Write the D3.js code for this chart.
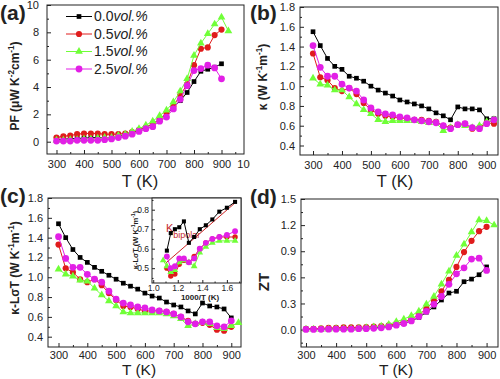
<!DOCTYPE html>
<html><head><meta charset="utf-8">
<script src="https://cdn.jsdelivr.net/npm/d3@7"></script>
<style>
body{margin:0;background:#fff}
svg{display:block}
text{font-family:"Liberation Sans",Arial,sans-serif;fill:#222}
</style>
</head><body>
<svg id="c" width="500" height="379"></svg>
<script>
// ---------------- DATA ----------------
const tempsK = [300,325,350,375,400,425,450,475,500,525,550,575,600,625,650,675,700,725,750,775,800,825,850,875,900,925];
const seriesNames = ['0.0','0.5','1.5','2.5'];
const xTicksA = [300,400,500,600,700,800,900,1000];
const xTicksT = [300,400,500,600,700,800,900];
const yTicksPF = [0,2,4,6,8,10];
const yTicksK = [0.4,0.6,0.8,1.0,1.2,1.4,1.6,1.8];
const yTicksZT = [0,0.3,0.6,0.9,1.2,1.5];
const insetXTicks = [1.0,1.2,1.4,1.6];
const insetYTicks = [0.5,0.6,0.7,0.8];
const bipolarLine = [[1.10,0.525],[1.667,0.835]];

// (a) power factor
const pf00 = [0.15,0.2,0.2,0.25,0.25,0.3,0.3,0.3,0.3,0.4,0.5,0.65,0.85,1.05,1.3,1.6,2.0,2.5,3.0,3.6,4.4,5.15,5.3,5.45,5.7];
const pf05 = [0.3,0.4,0.45,0.55,0.6,0.6,0.6,0.55,0.55,0.55,0.6,0.7,0.85,1.05,1.3,1.65,2.1,2.6,3.4,4.2,5.6,6.8,6.9,7.8,8.2];
const pf15 = [0.1,0.1,0.15,0.15,0.2,0.2,0.25,0.3,0.3,0.45,0.55,0.75,0.95,1.2,1.5,1.9,2.3,2.9,3.7,4.6,6.3,7.2,7.9,8.6,9.1,8.1];
const pf25 = [0.05,0.05,0.05,0.1,0.1,0.1,0.1,0.15,0.2,0.3,0.4,0.55,0.75,0.95,1.1,1.5,1.8,2.4,3.1,4.1,5.2,5.35,5.6,5.4,4.6];
// (b) thermal conductivity
const k00 = [1.55,1.41,1.28,1.20,1.17,1.10,1.08,1.05,1.00,0.96,0.93,0.90,0.86,0.84,0.82,0.80,0.77,0.73,0.70,0.66,0.79,0.77,0.77,0.76,0.67,0.67];
const k05 = [1.33,1.09,1.06,0.98,0.95,0.98,0.92,0.83,0.76,0.72,0.70,0.69,0.68,0.67,0.66,0.66,0.65,0.64,0.60,0.58,0.61,0.62,0.57,0.58,0.63,0.62];
const k15 = [1.08,1.02,1.01,0.96,0.96,0.89,0.82,0.76,0.72,0.66,0.64,0.65,0.65,0.65,0.65,0.64,0.63,0.63,0.55,0.58,0.61,0.60,0.58,0.60,0.64,0.66];
const k25 = [1.41,1.19,1.10,1.10,1.02,0.98,0.95,0.86,0.78,0.74,0.72,0.71,0.69,0.68,0.66,0.65,0.64,0.63,0.60,0.57,0.61,0.62,0.58,0.57,0.62,0.66];
// (c) kappa - L sigma T
const c00 = [1.54,1.40,1.28,1.20,1.15,1.10,1.06,1.02,0.98,0.94,0.91,0.88,0.84,0.81,0.79,0.75,0.72,0.70,0.66,0.63,0.74,0.71,0.70,0.68,0.59];
const c05 = [1.33,1.09,1.05,0.98,0.95,0.98,0.92,0.84,0.77,0.71,0.70,0.68,0.66,0.66,0.66,0.65,0.63,0.60,0.56,0.53,0.54,0.52,0.47,0.46,0.50];
const c15 = [1.08,1.03,1.01,0.97,0.96,0.89,0.82,0.76,0.71,0.65,0.64,0.64,0.64,0.64,0.64,0.63,0.61,0.58,0.51,0.53,0.54,0.53,0.49,0.48,0.51,0.54];
const c25 = [1.41,1.19,1.10,1.10,1.03,0.98,0.95,0.86,0.78,0.74,0.72,0.70,0.69,0.67,0.66,0.65,0.63,0.60,0.55,0.53,0.55,0.55,0.51,0.50,0.56];
// (d) ZT
const z00 = [0.005,0.005,0.005,0.01,0.01,0.01,0.01,0.01,0.015,0.02,0.025,0.035,0.05,0.07,0.10,0.14,0.20,0.26,0.34,0.42,0.44,0.55,0.58,0.63,0.72];
const z05 = [0.01,0.01,0.015,0.02,0.02,0.025,0.025,0.025,0.03,0.035,0.04,0.05,0.07,0.09,0.12,0.17,0.24,0.33,0.44,0.57,0.72,0.89,1.02,1.13,1.18];
const z15 = [0.003,0.003,0.005,0.005,0.01,0.01,0.01,0.015,0.02,0.03,0.04,0.06,0.09,0.12,0.16,0.21,0.29,0.38,0.52,0.67,0.85,0.98,1.12,1.26,1.25,1.20];
const z25 = [0.002,0.002,0.003,0.005,0.005,0.005,0.005,0.01,0.01,0.015,0.02,0.03,0.05,0.07,0.10,0.15,0.21,0.29,0.38,0.52,0.64,0.71,0.81,0.82,0.68];

// ---------------- STYLE ----------------
const styles = [
  {color:'#000000', sym:d3.symbolSquare, size:22},
  {color:'#e01c1c', sym:d3.symbolCircle, size:30},
  {color:'#70ff38', sym:d3.symbolTriangle, size:26},
  {color:'#e21fe6', sym:d3.symbolCircle, size:36}
];

const svg = d3.select('#c');
svg.append('rect').attr('width',500).attr('height',379).attr('fill','#fff');
svg.append('defs').append('clipPath').attr('id','clipA')
  .append('rect').attr('x',0).attr('y',0).attr('width',250).attr('height',192);

function drawAxes(g, x, y, f, o) {
  g.append('rect').attr('x',f.x0).attr('y',f.y0).attr('width',f.x1-f.x0).attr('height',f.y1-f.y0)
    .attr('fill', o.fill || 'none').attr('stroke','#222').attr('stroke-width',1);
  const tl = o.tl || 4;
  const mk = (sel) => sel.call(s=>s.select('.domain').remove()).attr('color','#222');
  g.append('g').attr('transform',`translate(0,${f.y1})`)
    .call(d3.axisBottom(x).tickValues(o.xMajor).tickSize(-tl).tickFormat('')).call(mk);
  if (o.xMinor) g.append('g').attr('transform',`translate(0,${f.y1})`)
    .call(d3.axisBottom(x).tickValues(o.xMinor).tickSize(-tl/2).tickFormat('')).call(mk);
  g.append('g').attr('transform',`translate(${f.x0},0)`)
    .call(d3.axisLeft(y).tickValues(o.yMajor).tickSize(-tl).tickFormat('')).call(mk);
  if (o.yMinor) g.append('g').attr('transform',`translate(${f.x0},0)`)
    .call(d3.axisLeft(y).tickValues(o.yMinor).tickSize(-tl/2).tickFormat('')).call(mk);
  const fs = o.fs || 11;
  const xl = g.append('g').attr('transform',`translate(0,${f.y1})`)
    .call(d3.axisBottom(x).tickValues(o.xLabels || o.xMajor).tickSize(0).tickPadding(o.xPad||6).tickFormat(o.xFmt));
  xl.select('.domain').remove();
  xl.attr('font-size',fs).attr('font-family','"Liberation Sans",Arial,sans-serif');
  const yl = g.append('g').attr('transform',`translate(${f.x0},0)`)
    .call(d3.axisLeft(y).tickValues(o.yMajor).tickSize(0).tickPadding(o.yPad||5).tickFormat(o.yFmt));
  yl.select('.domain').remove();
  yl.attr('font-size',fs).attr('font-family','"Liberation Sans",Arial,sans-serif');
}

function drawSeries(g, x, y, xs, arrs) {
  arrs.forEach((vals, i) => {
    const st = styles[i];
    const pts = vals.map((v, j) => [xs[j], v]);
    g.append('path').datum(pts)
      .attr('d', d3.line().x(d=>x(d[0])).y(d=>y(d[1])))
      .attr('fill','none').attr('stroke',st.color).attr('stroke-width',1);
    g.selectAll(null).data(pts).enter().append('path')
      .attr('transform', d=>`translate(${x(d[0])},${y(d[1])})`)
      .attr('d', d3.symbol().type(st.sym).size(st.size))
      .attr('fill', st.color);
  });
}

function richText(g, parts, attrs, fs) {
  const t = g.append('text');
  Object.entries(attrs).forEach(([k,v])=>t.attr(k,v));
  let shifted = false;
  parts.forEach(p => {
    const ts = t.append('tspan').text(p.t);
    if (p.sup) {
      ts.attr('font-size', fs*0.68).attr('dy', shifted ? 0 : -fs*0.4);
      shifted = true;
    } else {
      if (shifted) { ts.attr('dy', fs*0.4); shifted = false; }
    }
  });
  return t;
}

function panelLabel(txt, x, y, fs) {
  svg.append('text').attr('x',x).attr('y',y).attr('font-size',fs).attr('font-weight','bold').text(txt);
}

function axisTitleX(g, cx, y, fs) {
  g.append('text').attr('x',cx).attr('y',y).attr('text-anchor','middle').attr('font-size',fs||16.5).text('T (K)');
}

// ---------------- PANEL A ----------------
{
  const g = svg.append('g').attr('clip-path','url(#clipA)');
  const f = {x0:47, x1:244, y0:5, y1:154};
  const x = d3.scaleLinear().domain([265.5, 981.8]).range([f.x0, f.x1]);
  const y = d3.scaleLinear().domain([-0.9, 10]).range([f.y1, f.y0]);
  drawAxes(g, x, y, f, {
    xMajor:[300,400,500,600,700,800,900], xMinor:[350,450,550,650,750,850,950], xLabels:xTicksA,
    yMajor:yTicksPF, yMinor:[1,3,5,7,9], xFmt:d3.format('d'), yFmt:d3.format('d'), yPad:8
  });
  drawSeries(g, x, y, tempsK, [pf00, pf05, pf15, pf25]);
  axisTitleX(g, 140, 187);
  richText(g, [{t:'PF (μW K'},{t:'-2',sup:true},{t:'cm'},{t:'-1',sup:true},{t:')'}],
    {transform:'translate(19,86) rotate(-90)', 'text-anchor':'middle', 'font-size':12, 'font-weight':'bold'}, 12);
  // legend
  seriesNames.forEach((nm, i) => {
    const st = styles[i];
    const ly = 16.5 + i*17.5;
    g.append('line').attr('x1',66).attr('x2',92).attr('y1',ly).attr('y2',ly).attr('stroke',st.color).attr('stroke-width',1);
    g.append('path').attr('transform',`translate(79,${ly})`).attr('d', d3.symbol().type(st.sym).size(st.size)).attr('fill',st.color);
    const t = g.append('text').attr('x',94).attr('y',ly+4.5).attr('font-size',14)
      .attr('font-family','"Liberation Serif","Times New Roman",serif');
    t.append('tspan').text(nm);
    t.append('tspan').attr('font-style','italic').text('vol.%');
  });
}
panelLabel('(a)', 0, 20, 21);

// ---------------- PANEL B ----------------
{
  const g = svg.append('g');
  const f = {x0:300, x1:498, y0:7, y1:155};
  const x = d3.scaleLinear().domain([255, 939]).range([f.x0, f.x1]);
  const y = d3.scaleLinear().domain([0.304, 1.8]).range([f.y1, f.y0]);
  drawAxes(g, x, y, f, {
    xMajor:xTicksT, xMinor:[350,450,550,650,750,850],
    yMajor:yTicksK, yMinor:[0.5,0.7,0.9,1.1,1.3,1.5,1.7], xFmt:d3.format('d'), yFmt:d3.format('.1f')
  });
  drawSeries(g, x, y, tempsK, [k00, k05, k15, k25]);
  axisTitleX(g, 395, 187);
  richText(g, [{t:'κ (W K'},{t:'-1',sup:true},{t:'m'},{t:'-1',sup:true},{t:')'}],
    {transform:'translate(267,77) rotate(-90)', 'text-anchor':'middle', 'font-size':12, 'font-weight':'bold'}, 12);
}
panelLabel('(b)', 250, 20, 21);

// ---------------- PANEL C ----------------
{
  const g = svg.append('g');
  const f = {x0:48, x1:241, y0:198, y1:347};
  const x = d3.scaleLinear().domain([263.5, 933.7]).range([f.x0, f.x1]);
  const y = d3.scaleLinear().domain([0.296, 1.8]).range([f.y1, f.y0]);
  drawAxes(g, x, y, f, {
    xMajor:xTicksT, xMinor:[350,450,550,650,750,850], xPad:4,
    yMajor:yTicksK, yMinor:[0.5,0.7,0.9,1.1,1.3,1.5,1.7], xFmt:d3.format('d'), yFmt:d3.format('.1f')
  });
  drawSeries(g, x, y, tempsK, [c00, c05, c15, c25]);
  axisTitleX(g, 139, 375, 15.5);
  richText(g, [{t:'κ-LσT (W K'},{t:'-1',sup:true},{t:'m'},{t:'-1',sup:true},{t:')'}],
    {transform:'translate(19,268) rotate(-90)', 'text-anchor':'middle', 'font-size':12, 'font-weight':'bold'}, 12);

  // inset
  const fi = {x0:152, x1:241, y0:198, y1:283};
  const xi = d3.scaleLinear().domain([0.99, 1.715]).range([fi.x0, fi.x1]);
  const yi = d3.scaleLinear().domain([0.424, 0.86]).range([fi.y1, fi.y0]);
  drawAxes(g, xi, yi, fi, {
    xMajor:insetXTicks, xMinor:[1.1,1.3,1.5,1.7], yMajor:insetYTicks, yMinor:[0.45,0.55,0.65,0.75,0.85],
    xFmt:d3.format('.1f'), yFmt:d3.format('.1f'), fs:8.5, tl:3, xPad:2, yPad:3, fill:'#fff'
  });
  g.append('text').attr('x',200).attr('y',300).attr('text-anchor','middle').attr('font-size',8).attr('font-weight','bold').text('1000/T (K)');
  richText(g, [{t:'κ-LσT (W K'},{t:'-1',sup:true},{t:'m'},{t:'-1',sup:true},{t:')'}],
    {transform:'translate(138,240) rotate(-90)', 'text-anchor':'middle', 'font-size':7.5, 'font-weight':'bold'}, 7.5);
  g.append('path').datum(bipolarLine)
    .attr('d', d3.line().x(d=>xi(d[0])).y(d=>yi(d[1])))
    .attr('stroke','#cc2222').attr('stroke-width',1).attr('fill','none');
  const kt = g.append('text').attr('x',166).attr('y',232).attr('font-size',11).style('fill','#c42a2a');
  kt.append('tspan').text('K');
  kt.append('tspan').attr('font-size',9).attr('dy',6).text('bipolar');
  const insetArrs = [c00, c05, c15, c25].map(arr => arr.map((v,j)=>[1000/tempsK[j], v]).filter((d,j)=>tempsK[j] >= 600));
  insetArrs.forEach((pts, i) => {
    const st = styles[i];
    g.append('path').datum(pts)
      .attr('d', d3.line().x(d=>xi(d[0])).y(d=>yi(d[1])))
      .attr('fill','none').attr('stroke',st.color).attr('stroke-width',1);
    g.selectAll(null).data(pts).enter().append('path')
      .attr('transform', d=>`translate(${xi(d[0])},${yi(d[1])})`)
      .attr('d', d3.symbol().type(st.sym).size(st.size*0.75))
      .attr('fill', st.color);
  });
}
panelLabel('(c)', 0, 203, 21);

// ---------------- PANEL D ----------------
{
  const g = svg.append('g');
  const f = {x0:301, x1:498, y0:199, y1:347};
  const x = d3.scaleLinear().domain([283.4, 937.9]).range([f.x0, f.x1]);
  const y = d3.scaleLinear().domain([-0.2, 1.5]).range([f.y1, f.y0]);
  drawAxes(g, x, y, f, {
    xMajor:xTicksT, xMinor:[350,450,550,650,750,850], xPad:4,
    yMajor:yTicksZT, yMinor:[-0.15,0.15,0.45,0.75,1.05,1.35], xFmt:d3.format('d'), yFmt:d3.format('.1f')
  });
  drawSeries(g, x, y, tempsK, [z00, z05, z15, z25]);
  axisTitleX(g, 396, 375, 15.5);
  g.append('text').attr('transform','translate(269,282) rotate(-90)').attr('text-anchor','middle')
    .attr('font-size',15).attr('font-weight','bold').text('ZT');
}
panelLabel('(d)', 250, 204, 21);
</script>
</body></html>
